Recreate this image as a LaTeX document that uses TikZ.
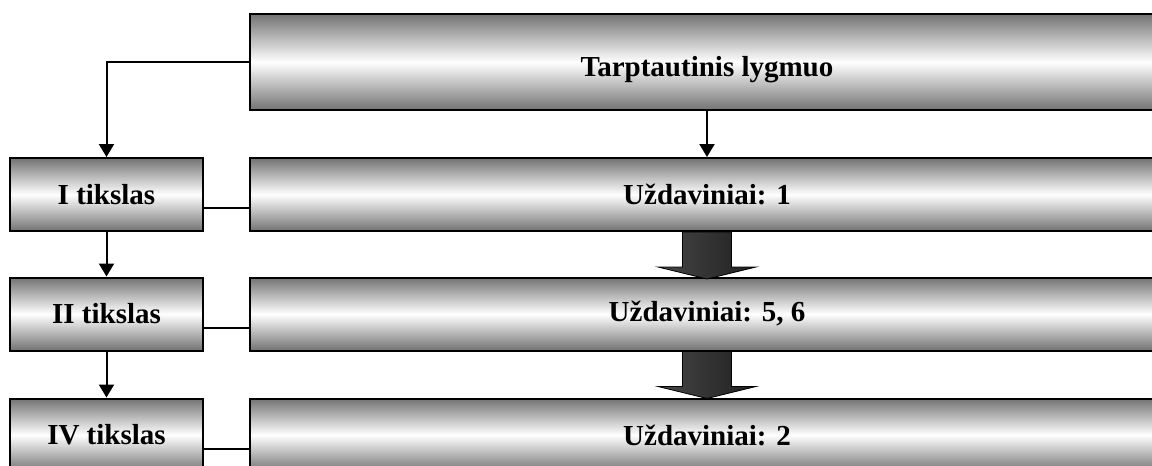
\documentclass[tikz,border=0pt]{standalone}
\usepackage{fontspec}
\setmainfont{Liberation Serif}
\usetikzlibrary{arrows.meta}
\tikzset{
  lvl/.style={draw=black, line width=1pt, top color=black!55, bottom color=black!55,
    middle color=white, font=\fontsize{14.5}{17}\selectfont\bfseries, inner sep=0pt},
  goal/.style={lvl, minimum width=96.5pt, minimum height=36.5pt},
  task/.style={lvl, minimum width=457pt, minimum height=36.5pt},
  link/.style={line width=1pt},
  arr/.style={link, -{Triangle[length=6.5pt,width=7.5pt]}},
  bigarr/.style={draw=black, line width=0.4pt, left color=black!72, right color=black!88}
}
\begin{document}
\begin{tikzpicture}[x=0.5pt, y=-0.5pt]
\useasboundingbox (0,0) rectangle (1152,466);

% Boxes
\node[task, minimum height=48pt, text height=18pt] (top) at (707,62) {Tarptautinis lygmuo};
\node[goal] (t1) at (106.5,194.5) {I tikslas};
\node[goal] (t2) at (106.5,314) {II tikslas};
\node[goal] (t3) at (106.5,435) {IV tikslas};
\node[task] (u1) at (707,194.5) {Uždaviniai: 1};
\node[task] (u2) at (707,314) {Uždaviniai: 5, 6};
\node[task] (u3) at (707,435) {Uždaviniai: 2};

% Arrows
\draw[arr] (top.west) -| (t1.north);
\draw[arr] (top.south) -- (u1.north);
\draw[arr] (t1.south) -- (t2.north);
\draw[arr] (t2.south) -- (t3.north);

% Links between goals and tasks
\foreach \g/\u in {t1/u1, t2/u2, t3/u3}
  \draw[link] ([yshift=12pt]\g.south east) -- ([yshift=12pt]\u.south west);

% Block arrows
\foreach \a/\b in {u1/u2, u2/u3}
  \path[bigarr, shift={(\a.south)}] (-12.25pt,0) -- (12.25pt,0) -- (12.25pt,-17.5pt)
    -- (24.5pt,-17.5pt) -- (0,-23.5pt) -- (-24.5pt,-17.5pt) -- (-12.25pt,-17.5pt) -- cycle;
\end{tikzpicture}
\end{document}
